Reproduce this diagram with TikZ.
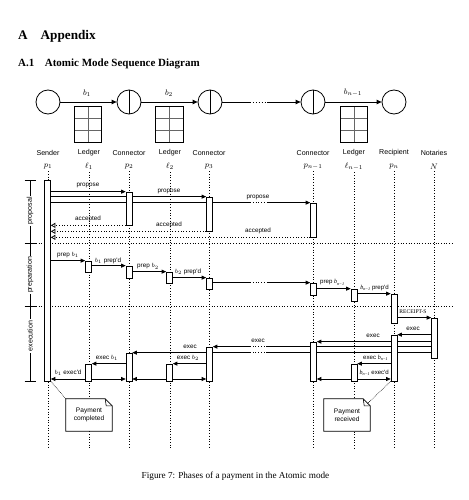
\documentclass[tikz,border=0pt]{standalone}
\usepackage{fontspec}
\setmainfont{Liberation Serif}
\newfontfamily\lsans{Liberation Sans}
\usetikzlibrary{arrows.meta,backgrounds,calc}
\newcommand{\abar}[4]{\node[actbar, minimum height={(#4-#3)*1pt}] (#1) at (#2,{(#3+#4)/2}) {};}
\newcommand{\bnm}{{\rmfamily\itshape b}\raisebox{-1.2pt}{\fontsize{4.2}{4.2}\selectfont\rmfamily\itshape n\kern0.2pt{\upshape\textminus}\kern0.2pt1}}
\newcommand{\gridbox}[2]{%
  \node[minimum width=27pt, minimum height=35pt, inner sep=0] (#1) at (#2,124.5) {};
  \draw[gray!80!black, line width=0.55pt] (#1.north) -- (#1.south)
    ($(#1.north west)!0.3333!(#1.south west)$) -- ($(#1.north east)!0.3333!(#1.south east)$)
    ($(#1.north west)!0.6667!(#1.south west)$) -- ($(#1.north east)!0.6667!(#1.south east)$);
  \draw[line width=0.8pt] (#1.north west) rectangle (#1.south east);}
\begin{document}
\begin{tikzpicture}[x=1pt,y=-1pt,
  lbl/.style={font=\lsans\fontsize{7.1}{8}\selectfont, inner sep=0},
  plbl/.style={font=\fontsize{8}{9}\selectfont, inner sep=0},
  msg/.style={font=\lsans\fontsize{6.3}{7.5}\selectfont, inner sep=0},
  nmsg/.style={font=\lsans\fontsize{6.1}{7}\selectfont, inner sep=0},
  actbar/.style={draw, fill=white, minimum width=6pt, inner sep=0, line width=0.7pt},
  call/.style={line width=0.75pt, -{Triangle[length=4.5pt,width=4pt]}},
  reply/.style={line width=0.75pt, dotted, -{Triangle[open,length=4.5pt,width=5pt]}},
  gapline/.style={line width=0.75pt, dotted},
  lifeline/.style={line width=0.7pt, dotted},
  party/.style={circle, draw, line width=0.8pt, minimum size=24pt, inner sep=0},
  chain/.style={line width=0.9pt, -{Triangle[length=5pt,width=4.5pt]}},
  phase/.style={font=\lsans\fontsize{7.1}{8}\selectfont, rotate=90, fill=white, inner sep=1.5pt},
  notebox/.style={font=\lsans\fontsize{6.6}{8}\selectfont, align=center, minimum width=46pt, minimum height=32pt, inner sep=0},
]
\useasboundingbox (0,0) rectangle (468,500);

% headings
\node[anchor=base west, inner sep=0, font=\bfseries\fontsize{13.2}{15}\selectfont] (h1) at (18,39.5) {A\hspace{13pt}Appendix};
\node[anchor=base west, inner sep=0, font=\bfseries\fontsize{11}{13}\selectfont] (h2) at (18,67) {A.1\hspace{10.5pt}Atomic Mode Sequence Diagram};

% top chain
\node[party] (cS) at (48,102) {};
\node[party] (cP2) at (129,102) {};
\node[party] (cP3) at (210,102) {};
\node[party] (cPn1) at (313,102) {};
\node[party] (cPn) at (394,102) {};
\foreach \c in {cP2,cP3,cPn1} \draw[line width=0.8pt] (\c.north) -- (\c.south);
\coordinate (gapL) at (250,0);
\coordinate (gapR) at (267,0);
\draw[chain] (cS) -- (cP2);
\draw[chain] (cP2) -- (cP3);
\draw[line width=0.9pt] (cP3.east) -- (gapL |- cP3.east);
\draw[line width=0.9pt, dotted] (gapL |- cP3.east) -- (gapR |- cP3.east);
\draw[chain] (gapR |- cP3.east) -- (cPn1.west);
\draw[chain] (cPn1) -- (cPn);
\node[plbl] (tb1) at (87,93) {$b_1$};
\node[plbl] (tb2) at (169,93) {$b_2$};
\node[plbl] (tbn) at (353,93) {$b_{n-1}$};
\gridbox{g1}{88}
\gridbox{g2}{169.5}
\gridbox{gn}{354}

% lifeline heads
\foreach \n/\x/\t/\p in {S/48/Sender/p_1, L1/89/Ledger/\ell_1, P2/129/Connector/p_2, L2/170/Ledger/\ell_2, P3/209/Connector/p_3, Pn1/313/Connector/p_{n-1}, Ln1/354/Ledger/\ell_{n-1}, Pn/394/Recipient/p_n, N/434/Notaries/N}{
  \node[lbl] (t\n) at (\x,153) {\t};
  \node[plbl] (p\n) at (\x,166.5) {$\p$};
}

% phase brackets
\draw[line width=0.75pt] (30,180) -- (30,381);
\foreach \y in {180,243,306,381} \draw[line width=0.75pt] (24.5,\y) -- (35.5,\y);
\node[phase] (ph1) at (30,211) {proposal};
\node[phase] (ph2) at (30,275) {preparation};
\node[phase] (ph3) at (30,336) {execution};

% activation bars
\abar{S}{47.5}{180}{381}
\abar{P2a}{129}{192}{225}
\abar{P3a}{209.5}{197}{231}
\abar{Pn1a}{313.5}{203}{237}
\abar{L1a}{88.5}{261}{272}
\abar{P2b}{129}{266}{278}
\abar{L2a}{169.5}{272}{283}
\abar{P3b}{209.5}{278}{289}
\abar{Pn1b}{313.5}{283}{295}
\abar{Ln1a}{354}{289}{301}
\abar{Pna}{394}{294}{323}
\abar{Na}{434.5}{318}{358}
\abar{Pnb}{394}{335}{381}
\abar{Pn1c}{313.5}{342}{381}
\abar{P3c}{209.5}{347}{381}
\abar{P2c}{129}{353}{381}
\abar{L1b}{88.5}{364}{381}
\abar{L2b}{169.5}{364}{381}
\abar{Ln1b}{354}{364}{381}
\coordinate (done) at (0,379);

\begin{pgfonlayer}{background}
\fill[white] (0,0) rectangle (468,500);
% lifelines
\foreach \n in {S,L1,P2,L2,P3,Pn1,Ln1,Pn,N}
  \draw[lifeline] ([yshift=-2pt]p\n.south) -- (p\n.south |- 0,448);
% phase separators
\draw[lifeline] (36,243) -- (452,243);
\draw[lifeline] (36,306) -- (452,306);

% proposal
\draw[call] (S.east |- P2a.north) -- (P2a.north west);
\draw[call] (S.east |- P3a.north) -- (P3a.north west);
\draw[line width=0.75pt] (S.east |- Pn1a.north) -- (gapL |- Pn1a.north);
\draw[gapline] (gapL |- Pn1a.north) -- (gapR |- Pn1a.north);
\draw[call] (gapR |- Pn1a.north) -- (Pn1a.north west);
\draw[reply] (P2a.south west) -- (S.east |- P2a.south);
\draw[reply] (P3a.south west) -- (S.east |- P3a.south);
\draw[reply] (Pn1a.south west) -- (S.east |- Pn1a.south);

% preparation
\draw[call] (S.east |- L1a.north) -- (L1a.north west);
\draw[call] (L1a.east |- P2b.north) -- (P2b.north west);
\draw[call] (P2b.east |- L2a.north) -- (L2a.north west);
\draw[call] (L2a.east |- P3b.north) -- (P3b.north west);
\draw[line width=0.75pt] (P3b.east |- Pn1b.north) -- (gapL |- Pn1b.north);
\draw[gapline] (gapL |- Pn1b.north) -- (gapR |- Pn1b.north);
\draw[call] (gapR |- Pn1b.north) -- (Pn1b.north west);
\draw[call] (Pn1b.east |- Ln1a.north) -- (Ln1a.north west);
\draw[call] (Ln1a.east |- Pna.north) -- (Pna.north west);
\draw[call] (Pna.east |- Na.north) -- (Na.north west);

% execution
\draw[call] (Na.west |- Pnb.north) -- (Pnb.north east);
\draw[call] (Na.west |- Pn1c.north) -- (Pn1c.north east);
\draw[line width=0.75pt] (Na.west |- P3c.north) -- (gapR |- P3c.north);
\draw[gapline] (gapR |- P3c.north) -- (gapL |- P3c.north);
\draw[call] (gapL |- P3c.north) -- (P3c.north east);
\draw[line width=0.75pt] (Na.west |- P2c.north) -- (gapR |- P2c.north);
\draw[gapline] (gapR |- P2c.north) -- (gapL |- P2c.north);
\draw[call] (gapL |- P2c.north) -- (P2c.north east);
\draw[call] (P2c.west |- L1b.north) -- (L1b.north east);
\draw[call] (P3c.west |- L2b.north) -- (L2b.north east);
\draw[call] (Pnb.west |- Ln1b.north) -- (Ln1b.north east);
\draw[call] (L1b.west |- done) -- (S.east |- done);
\draw[call] (L1b.east |- done) -- (P2c.west |- done);
\draw[call] (L2b.west |- done) -- (P2c.east |- done);
\draw[call] (L2b.east |- done) -- (P3c.west |- done);
\draw[call] (Ln1b.west |- done) -- (Pn1c.east |- done);
\draw[call] (Ln1b.east |- done) -- (Pnb.west |- done);
\end{pgfonlayer}

% message labels
\node[msg] (m1) at (88,185) {propose};
\node[msg] (m2) at (169,191.5) {propose};
\node[msg] (m3) at (258,197) {propose};
\node[msg] (m4) at (88,218.5) {accepted};
\node[msg] (m5) at (169,225) {accepted};
\node[msg] (m6) at (258,231) {accepted};
\node[msg] (m7) at (68,255) {prep $b_1$};
\node[msg] (m8) at (108,260.5) {$b_1$ prep'd};
\node[msg] (m9) at (148,266.5) {prep $b_2$};
\node[msg] (m10) at (188,272) {$b_2$ prep'd};
\node[nmsg, anchor=west] (m11) at (320,282.5) {prep \bnm};
\node[nmsg, anchor=east] (m12) at (389,288) {\bnm\ prep'd};
\node[inner sep=0, font=\fontsize{5.6}{6.5}\selectfont] (m13) at (413,311.5) {RECEIPT-S};
\node[msg] (m14) at (413,329) {exec};
\node[msg] (m15) at (373,336) {exec};
\node[msg] (m16) at (258,341) {exec};
\node[msg] (m17) at (190,347) {exec};
\node[msg] (m18) at (107,358) {exec $b_1$};
\node[msg] (m19) at (188,358) {exec $b_2$};
\node[nmsg, anchor=east] (m20) at (388,358) {exec \bnm};
\node[msg] (m21) at (68,372.5) {$b_1$ exec'd};
\node[nmsg, anchor=east] (m22) at (389,372.5) {\bnm\ exec'd};

% notes
\node[notebox] (nc) at (89,415) {};
\node[notebox] (nr) at (347,415) {};
\foreach \nn in {nc,nr}{
  \draw[fill=white, line width=0.75pt] (\nn.north west) -- ([xshift=-7pt]\nn.north east) -- ([yshift=-7pt]\nn.north east) -- (\nn.south east) -- (\nn.south west) -- cycle;
  \draw[line width=0.6pt] ([xshift=-7pt]\nn.north east) -- ([xshift=-6pt,yshift=-7pt]\nn.north east) -- ([yshift=-7pt]\nn.north east);
}
\node[notebox] (nct) at (89,415) {Payment\\completed};
\node[notebox] (nrt) at (347,415) {Payment\\received};
\draw[line width=0.6pt, densely dotted] (S.south east) -- (nc.north west);
\draw[line width=0.6pt, densely dotted] (Pnb.south west) -- ([xshift=-3pt,yshift=-5pt]nr.north east);

% caption
\node[anchor=base, inner sep=0, font=\fontsize{9.2}{11}\selectfont] (cap) at (235.5,478) {Figure 7: Phases of a payment in the Atomic mode};
\end{tikzpicture}
\end{document}
